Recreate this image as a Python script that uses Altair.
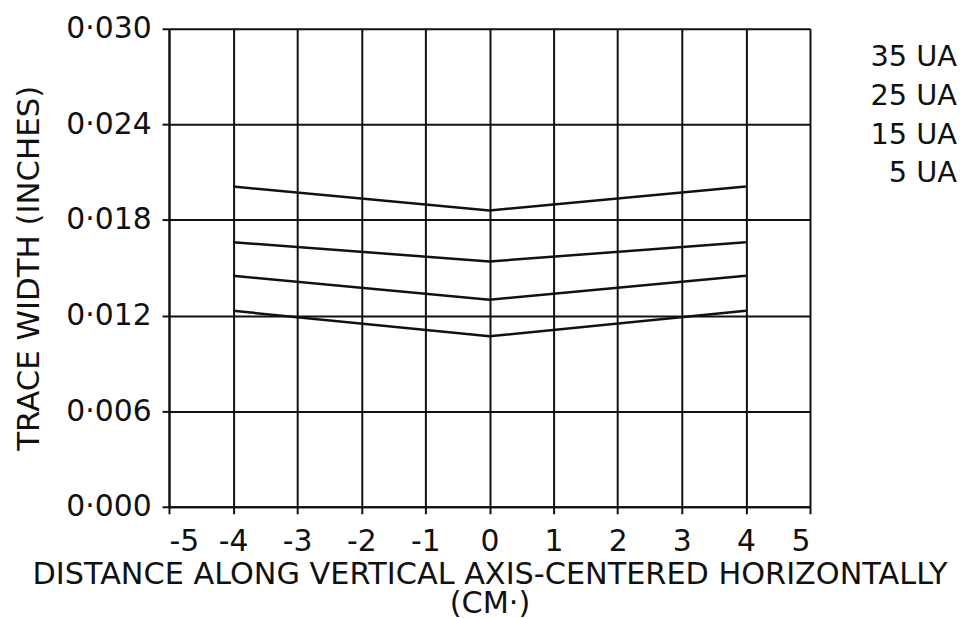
import altair as alt
import pandas as pd

# Data
series = ["35 UA", "25 UA", "15 UA", "5 UA"]
x_positions = [-4, 0, 4]
widths = {
    "35 UA": [0.0201, 0.0186, 0.0201],
    "25 UA": [0.0166, 0.0154, 0.0166],
    "15 UA": [0.0145, 0.0130, 0.0145],
    "5 UA": [0.0123, 0.0107, 0.0123],
}
x_ticks = [-5, -4, -3, -2, -1, 0, 1, 2, 3, 4, 5]
y_ticks = [0.000, 0.006, 0.012, 0.018, 0.024, 0.030]

rows = []
for s in series:
    for xv, yv in zip(x_positions, widths[s]):
        rows.append({"series": s, "x": xv, "y": yv})
df = pd.DataFrame(rows)

FONT = "DejaVu Sans"
INK = "#111111"

chart = (
    alt.Chart(df)
    .mark_line(strokeWidth=2.5, color=INK)
    .encode(
        x=alt.X(
            "x:Q",
            scale=alt.Scale(domain=[-5, 5], nice=False, zero=False),
            axis=alt.Axis(
                values=x_ticks,
                title=["DISTANCE ALONG VERTICAL AXIS-CENTERED HORIZONTALLY", "(CM·)"],
                titleFontSize=30.5,
                titleFont=FONT,
                titleFontWeight="normal",
                titleColor=INK,
                titlePadding=3,
                titleLineHeight=29,
                labelFontSize=30,
                labelFont=FONT,
                labelColor=INK,
                labelPadding=13,
                tickSize=7,
                tickColor=INK,
                tickWidth=2,
                domainColor=INK,
                domainWidth=2,
                gridColor=INK,
                gridWidth=2,
                gridOpacity=1,
                labelExpr="replace(format(datum.value, 'd'), '−', '-')",
            ),
        ),
        y=alt.Y(
            "y:Q",
            scale=alt.Scale(domain=[0, 0.03], nice=False),
            axis=alt.Axis(
                values=y_ticks,
                title="TRACE WIDTH (INCHES)",
                titleFontSize=31,
                titleFont=FONT,
                titleFontWeight="normal",
                titleColor=INK,
                titlePadding=20,
                labelFontSize=30,
                labelFont=FONT,
                labelColor=INK,
                labelPadding=11,
                tickSize=7,
                tickColor=INK,
                tickWidth=2,
                domainColor=INK,
                domainWidth=2,
                gridColor=INK,
                gridWidth=2,
                gridOpacity=1,
                labelExpr="replace(format(datum.value, '.3f'), '.', '·')",
            ),
        ),
        detail=alt.Detail("series:N"),
        opacity=alt.Opacity(
            "series:N",
            sort=series,
            scale=alt.Scale(domain=series, range=[1, 1, 1, 1]),
            legend=alt.Legend(
                title=None,
                orient="none",
                legendX=764,
                legendY=14,
                labelAlign="right",
                labelFont=FONT,
                labelFontSize=29,
                labelColor=INK,
                symbolSize=0,
                symbolOpacity=0,
                symbolStrokeWidth=0,
                labelOffset=0,
                rowPadding=9,
                padding=0,
            ),
        ),
    )
    .properties(
        width=645,
        height=481,
        autosize=alt.AutoSizeParams(type="none"),
        padding={"left": 162, "top": 19, "right": 160, "bottom": 110},
    )
    .configure_view(stroke=None)
    .configure(background="white")
)

chart.save("out.html", embed_options={"renderer": "svg", "actions": False})
